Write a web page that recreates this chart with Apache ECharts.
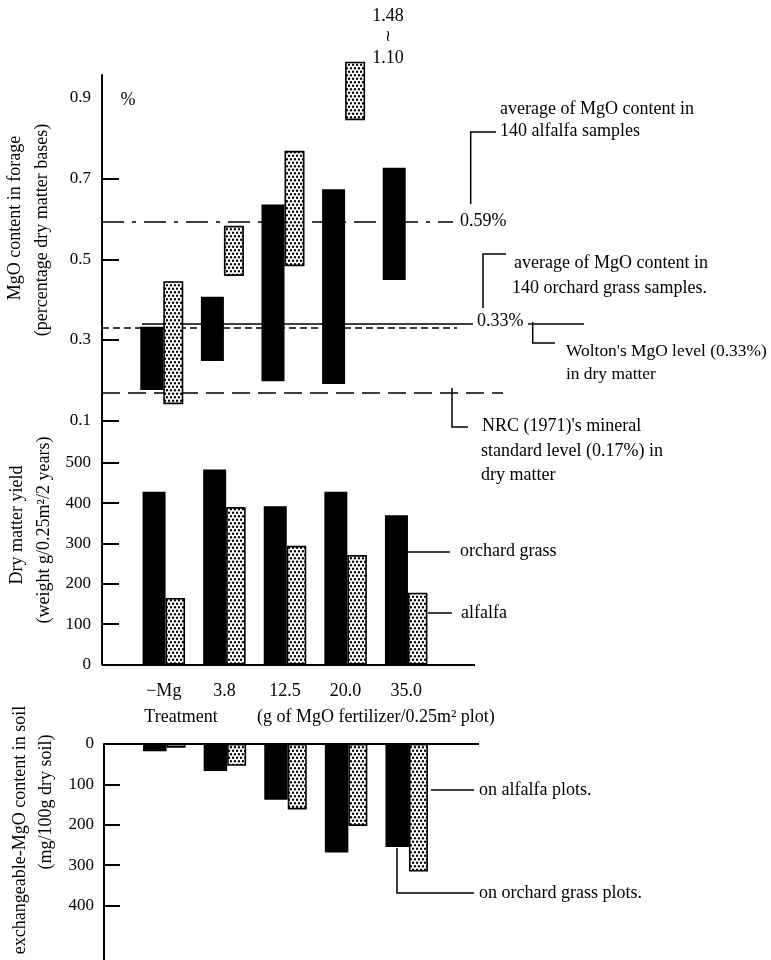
<!DOCTYPE html>
<html><head><meta charset="utf-8">
<script src="https://cdn.jsdelivr.net/npm/echarts@6/dist/echarts.min.js"></script>
<style>html,body{margin:0;padding:0;background:#fff}#c{width:771px;height:960px}</style>
</head><body><div id="c"></div>
<script>
// ---------------- data ----------------
const categories = ['\u2212Mg', '3.8', '12.5', '20.0', '35.0'];

// MgO content in forage (% of dry matter): floating range bars (low / high)
const mgoOrchardLow  = [0.176, 0.248, 0.198, 0.191, 0.449];
const mgoOrchardHigh = [0.333, 0.407, 0.636, 0.674, 0.727];
const mgoAlfalfaLow  = [0.141, 0.459, 0.483, 0.845, null];   // 20.0: drawn with axis break (1.10 ~ 1.48)
const mgoAlfalfaHigh = [0.446, 0.583, 0.769, 0.990, null];

// reference levels in the MgO panel (as drawn)
const refAlfalfaAvg = 0.593;   // 0.59 %
const refOrchardAvg = 0.341;   // 0.33 % (solid)
const refWolton     = 0.330;   // 0.33 % (dashed)
const refNRC        = 0.170;   // 0.17 %

// Dry matter yield (g / 0.25 m2 / 2 years)
const yieldOrchard = [428, 483, 392, 428, 370];
const yieldAlfalfa = [165, 390, 294, 271, 178];

// Exchangeable MgO in soil (mg / 100 g dry soil)
const soilOrchard = [18, 67, 138, 269, 255];
const soilAlfalfa = [9, 54, 162, 203, 316];

// tick labels
const mgoTickLabels   = [0.1, 0.3, 0.5, 0.7, 0.9];
const mgoTickMarks    = [0.1, 0.3, 0.5, 0.7];
const yieldTickLabels = [0, 100, 200, 300, 400, 500];
const yieldTickMarks  = [100, 200, 300, 400, 500];
const soilTickLabels  = [0, 100, 200, 300, 400];
const soilTickMarks   = [100, 200, 300, 400];

// ---------------- helpers ----------------
const FONT = '"Liberation Serif", "Times New Roman", serif';
function makeDots() {
  const c = document.createElement('canvas');
  c.width = 4; c.height = 7;
  const g = c.getContext('2d');
  g.fillStyle = '#fff'; g.fillRect(0, 0, 4, 7);
  g.fillStyle = '#000';
  [[1, 1.75], [3, 5.25]].forEach(([x, y]) => { g.beginPath(); g.arc(x, y, 1.25, 0, Math.PI * 2); g.fill(); });
  return c;
}
const dotFill = { image: makeDots(), repeat: 'repeat' };
const dotItem = { color: dotFill, borderColor: '#000', borderWidth: 1.6 };
const blackItem = { color: '#000' };
const rangeOrchard = mgoOrchardHigh.map((h, i) => h == null ? null : +(h - mgoOrchardLow[i]).toFixed(3));
const rangeAlfalfa = mgoAlfalfaHigh.map((h, i) => h == null ? null : +(h - mgoAlfalfaLow[i]).toFixed(3));

function yAx(gi, opts) {
  return Object.assign({
    gridIndex: gi, type: 'value',
    axisLine: { show: true, lineStyle: { color: '#000', width: 2 } },
    splitLine: { show: false }
  }, opts);
}
function hLine(val, x1, x2, type, width) {
  return [{ x: x1, yAxis: val }, { x: x2, yAxis: val, lineStyle: { type: type, width: width || 1.5, color: '#000' } }];
}
const mlBase = { silent: true, symbol: ['none', 'none'], label: { show: false }, z: 1,
  lineStyle: { color: '#000', width: 1.5, type: 'solid' }, emphasis: { disabled: true } };

function txt(x, y, text, opt) {
  opt = opt || {};
  return { type: 'text', x: x, y: y, rotation: opt.rot || 0, silent: true,
    style: { text: text, font: (opt.size || 18) + 'px ' + FONT, fill: '#000',
      textAlign: opt.align || 'left', align: opt.align || 'left',
      textVerticalAlign: 'middle', verticalAlign: 'middle' } };
}
function poly(points) {
  return { type: 'polyline', silent: true, shape: { points: points },
    style: { stroke: '#000', lineWidth: 1.5, fill: null } };
}
const tickStyle = { color: '#000', width: 2 };
const labelStyle = { color: '#000', fontFamily: FONT, fontSize: 17 };

const chart = echarts.init(document.getElementById('c'), null, { renderer: 'canvas' });
const option = {
  animation: false,
  backgroundColor: '#fff',
  textStyle: { fontFamily: FONT, color: '#000' },
  grid: [
    { left: 131.5, width: 303, top: 75, height: 345.7 },
    { left: 133.5, width: 303, top: 420.7, height: 243.8 },
    { left: 134, width: 303, top: 744, height: 216 }
  ],
  xAxis: [
    { gridIndex: 0, type: 'category', data: categories, show: false },
    { gridIndex: 1, type: 'category', data: categories,
      axisLine: { show: false }, axisTick: { show: false },
      axisLabel: { color: '#000', fontFamily: FONT, fontSize: 18, margin: 18 } },
    { gridIndex: 2, type: 'category', data: categories, show: false }
  ],
  yAxis: [
    yAx(0, { min: 0.1, max: 0.957, offset: 29.5,
      axisTick: { show: true, inside: true, length: 17, lineStyle: tickStyle, customValues: mgoTickMarks },
      axisLabel: Object.assign({ margin: 11, customValues: mgoTickLabels, formatter: v => v.toFixed(1) }, labelStyle) }),
    yAx(1, { min: 0, max: 604, offset: 31.5,
      axisTick: { show: true, inside: true, length: 17, lineStyle: tickStyle, customValues: yieldTickMarks },
      axisLabel: Object.assign({ margin: 11, customValues: yieldTickLabels }, labelStyle) }),
    yAx(2, { min: 0, max: 535, inverse: true, offset: 30,
      axisTick: { show: true, inside: true, length: 16, lineStyle: tickStyle, customValues: soilTickMarks },
      axisLabel: Object.assign({ margin: 10, customValues: soilTickLabels }, labelStyle) })
  ],
  series: [
    // ---- MgO content panel ----
    { name: 'og-base', type: 'bar', xAxisIndex: 0, yAxisIndex: 0, stack: 'og', barWidth: 23, barGap: '0%',
      data: mgoOrchardLow, itemStyle: { color: 'rgba(0,0,0,0)' }, silent: true, z: 2 },
    { name: 'orchard grass MgO', type: 'bar', xAxisIndex: 0, yAxisIndex: 0, stack: 'og', barWidth: 23, barGap: '0%',
      data: rangeOrchard, itemStyle: blackItem, clip: false, z: 3,
      markLine: Object.assign({}, mlBase, { data: [
        hLine(refAlfalfaAvg, 102, 453, [22, 8, 4, 8]),
        hLine(refOrchardAvg, 142, 473, 'solid'),
        hLine(refOrchardAvg, 528, 584, 'solid'),
        hLine(refWolton, 102, 457, [7, 4]),
        hLine(refNRC, 102, 503, [18, 8])
      ] }) },
    { name: 'al-base', type: 'bar', xAxisIndex: 0, yAxisIndex: 0, stack: 'al', barWidth: 20, barGap: '0%',
      data: mgoAlfalfaLow, itemStyle: { color: 'rgba(0,0,0,0)' }, silent: true, z: 2 },
    { name: 'alfalfa MgO', type: 'bar', xAxisIndex: 0, yAxisIndex: 0, stack: 'al', barWidth: 20, barGap: '0%',
      data: rangeAlfalfa, itemStyle: dotItem, clip: false, z: 3 },

    // ---- Dry matter yield panel ----
    { name: 'orchard grass yield', type: 'bar', xAxisIndex: 1, yAxisIndex: 1, barWidth: 23, barGap: '0%',
      data: yieldOrchard, itemStyle: blackItem, z: 3,
      markLine: Object.assign({}, mlBase, { lineStyle: { color: '#000', width: 2 }, data: [ hLine(0, 102, 475, 'solid', 2) ] }) },
    { name: 'alfalfa yield', type: 'bar', xAxisIndex: 1, yAxisIndex: 1, barWidth: 19.5, barGap: '0%',
      data: yieldAlfalfa, itemStyle: dotItem, z: 3 },

    // ---- Soil exchangeable MgO panel ----
    { name: 'orchard grass soil', type: 'bar', xAxisIndex: 2, yAxisIndex: 2, barWidth: 23.5, barGap: '0%',
      data: soilOrchard, itemStyle: blackItem, z: 3,
      markLine: Object.assign({}, mlBase, { lineStyle: { color: '#000', width: 2 }, data: [ hLine(0, 104, 479, 'solid', 2) ] }) },
    { name: 'alfalfa soil', type: 'bar', xAxisIndex: 2, yAxisIndex: 2, barWidth: 19, barGap: '0%',
      data: soilAlfalfa, itemStyle: dotItem, z: 3 }
  ],
  graphic: [
    // axis names
    txt(15, 218, 'MgO content in forage', { rot: Math.PI / 2, align: 'center' }),
    txt(42, 230, '(percentage dry matter bases)', { rot: Math.PI / 2, align: 'center' }),
    txt(17, 525, 'Dry matter yield', { rot: Math.PI / 2, align: 'center' }),
    txt(44, 530, '(weight g/0.25m\u00B2/2 years)', { rot: Math.PI / 2, align: 'center' }),
    txt(20, 830, 'exchangeable-MgO content in soil', { rot: Math.PI / 2, align: 'center' }),
    txt(46, 802, '(mg/100g dry soil)', { rot: Math.PI / 2, align: 'center' }),
    txt(128, 100, '%', { align: 'center' }),
    // axis break annotation
    txt(388, 16, '1.48', { size: 18, align: 'center' }),
    txt(388, 37, '\u2240', { size: 16, align: 'center' }),
    txt(388, 58, '1.10', { size: 18, align: 'center' }),
    // reference level labels
    txt(460, 221, '0.59%', { size: 18 }),
    txt(477, 321, '0.33%', { size: 18 }),
    poly([[470.7, 204], [470.7, 132], [496, 132]]),
    txt(500, 109, 'average of MgO content in'),
    txt(500, 131, '140 alfalfa samples'),
    poly([[483, 308], [483, 254], [506, 254]]),
    txt(514, 263, 'average of MgO content in'),
    txt(512, 288, '140 orchard grass samples.'),
    poly([[532.7, 322], [532.7, 343], [555, 343]]),
    txt(566, 351, "Wolton's MgO level (0.33%)", { size: 17.4 }),
    txt(566, 374, 'in dry matter', { size: 17.4 }),
    poly([[452, 388], [452, 427], [468, 427]]),
    txt(482, 426, "NRC (1971)'s mineral"),
    txt(481, 451, 'standard level (0.17%) in'),
    txt(481, 475, 'dry matter'),
    // yield panel leaders
    poly([[408, 552], [450, 552]]),
    txt(460, 551, 'orchard grass'),
    poly([[428, 613], [452, 613]]),
    txt(461, 613, 'alfalfa'),
    // treatment caption
    txt(181, 717, 'Treatment', { align: 'center' }),
    txt(257, 717, '(g of MgO fertilizer/0.25m\u00B2 plot)'),
    // soil panel leaders
    poly([[431, 790], [474, 790]]),
    txt(479, 790, 'on alfalfa plots.'),
    poly([[397, 848], [397, 893], [474, 893]]),
    txt(479, 893, 'on orchard grass plots.')
  ]
};
chart.setOption(option);
</script>
</body></html>
